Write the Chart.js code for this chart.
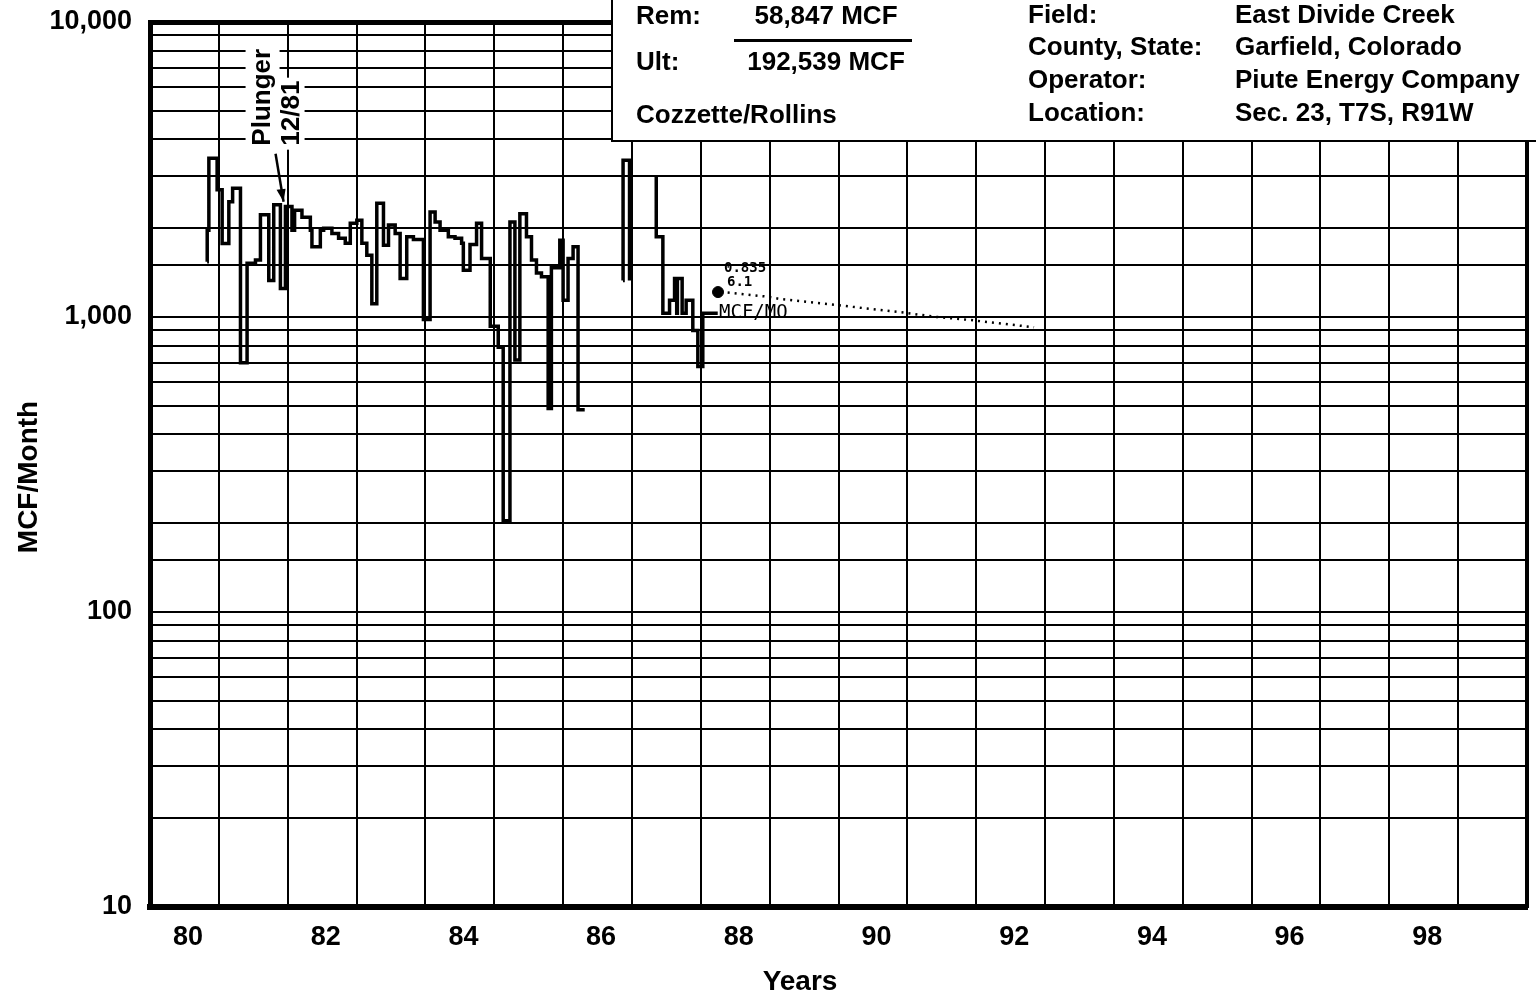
<!DOCTYPE html>
<html><head><meta charset="utf-8">
<script src="https://cdn.jsdelivr.net/npm/chart.js@4.4.1/dist/chart.umd.min.js"></script>
<style>html,body{margin:0;padding:0;background:#fff;}canvas{display:block;}</style>
</head><body>
<canvas id="c" width="1536" height="998"></canvas>
<script>
// ---------- DATA ----------
// Monthly gas production, step series (decimal year since 1900, MCF/month); null = gap
const prodYears = [
  80.830, 80.831, 80.855, 80.975, 81.048, 81.145, 81.200, 81.314, 81.410, 81.532,
  81.604, 81.725, 81.797, 81.894, 81.967, 82.062, 82.100, 82.207, 82.329, 82.352,
  82.474, 82.522, 82.642, 82.739, 82.836, 82.909, 83.004, 83.077, 83.149, 83.222,
  83.294, 83.391, 83.464, 83.561, 83.633, 83.729, 83.826, 83.971, 84.068, 84.141,
  84.213, 84.333, 84.430, 84.526, 84.551, 84.648, 84.743, 84.816, 84.942, 85.058,
  85.130, 85.228, 85.300, 85.372, 85.468, 85.541, 85.613, 85.686, 85.783, 85.830,
  85.952, 86.000, 86.072, 86.145, 86.217, 86.314,
  86.500,
  86.870, 86.871, 86.965,
  87.100,
  87.352, 87.353, 87.449, 87.546, 87.619, 87.650, 87.660, 87.729, 87.787, 87.884,
  87.957, 88.029, 88.246
];
const prodMcf = [
  1540, 1970, 3450, 2700, 1775, 2460, 2730, 700, 1520, 1560,
  2220, 1330, 2400, 1250, 2370, 1970, 2300, 2180, 1970, 1730,
  1970, 2000, 1920, 1850, 1780, 2080, 2130, 1780, 1620, 1110,
  2430, 1750, 2050, 1920, 1350, 1870, 1830, 980, 2270, 2100,
  1970, 1870, 1850, 1780, 1440, 1760, 2080, 1580, 930, 790,
  204, 2100, 715, 2240, 1870, 1560, 1410, 1370, 490, 1470,
  1820, 1140, 1580, 1730, 485, 485,
  null,
  1330, 3400, 1330,
  null,
  2990, 1870, 1030, 1140, 1350, 1030, 1350, 1030, 1140, 900,
  680, 1030, 1030
];
// Forecast decline (dotted)
const forecastYears = [88.39, 88.97, 89.16, 89.94, 90.96, 91.43, 91.91, 92.84];
const forecastMcf   = [1210, 1172, 1150, 1100, 1034, 1000, 977, 923];
// Forecast start marker
const markerYears = [88.25];
const markerMcf   = [1215];
// Axis tick labels
const yTickValues = [10, 100, 1000, 10000];
const yTickLabels = ['10', '100', '1,000', '10,000'];
const xTickYears  = [80, 82, 84, 86, 88, 90, 92, 94, 96, 98];
const xTickLabels = ['80', '82', '84', '86', '88', '90', '92', '94', '96', '98'];
// Texts
const yTitle = 'MCF/Month';
const xTitle = 'Years';
const reserveLabels = ['Rem:', 'Ult:'];
const reserveValues = ['58,847 MCF', '192,539 MCF'];
const formationText = 'Cozzette/Rollins';
const wellLabels = ['Field:', 'County, State:', 'Operator:', 'Location:'];
const wellValues = ['East Divide Creek', 'Garfield, Colorado', 'Piute Energy Company', 'Sec. 23, T7S, R91W'];
const plungerTexts = ['Plunger', '12/81'];
const plungerPoint = {x: 81.94, y: 2460};
const forecastTexts = ['0.835', '6.1', 'MCF/MO'];

// ---------- STYLE ----------
const FONT = "'Liberation Sans', Arial, Helvetica, sans-serif";
const MONO = "'DejaVu Sans Mono', 'Liberation Mono', monospace";

const noPad = (s) => { s.paddingTop = 0; s.paddingBottom = 0; s.paddingLeft = 0; s.paddingRight = 0; };

const overlay = {
  id: 'overlay',
  afterDraw(chart) {
    const {ctx, scales: {x, y}} = chart;
    ctx.save();
    // header box
    const bx = 612, bh = 141;
    ctx.fillStyle = '#fff';
    ctx.fillRect(bx, 0, chart.width - bx, bh);
    ctx.strokeStyle = '#000';
    ctx.lineWidth = 2;
    ctx.beginPath();
    ctx.moveTo(bx, 0); ctx.lineTo(bx, bh); ctx.lineTo(chart.width, bh);
    ctx.stroke();

    ctx.fillStyle = '#000';
    ctx.font = 'bold 26px ' + FONT;
    ctx.textBaseline = 'middle';
    ctx.textAlign = 'left';
    const resY = [17, 63];
    reserveLabels.forEach((t, i) => ctx.fillText(t, 636, resY[i]));
    ctx.textAlign = 'center';
    reserveValues.forEach((t, i) => ctx.fillText(t, 826, resY[i]));
    ctx.fillRect(734, 39, 178, 3);
    ctx.textAlign = 'left';
    ctx.fillText(formationText, 636, 116);
    const wy = [16, 48, 81, 114];
    wellLabels.forEach((t, i) => ctx.fillText(t, 1028, wy[i]));
    wellValues.forEach((t, i) => ctx.fillText(t, 1235, wy[i]));

    // axis titles
    ctx.font = 'bold 28px ' + FONT;
    ctx.textAlign = 'center';
    ctx.fillText(xTitle, 800, 982);
    ctx.save();
    ctx.translate(29, 477);
    ctx.rotate(-Math.PI / 2);
    ctx.fillText(yTitle, 0, 0);
    ctx.restore();

    // Plunger annotation
    const tx = x.getPixelForValue(plungerPoint.x), ty = y.getPixelForValue(plungerPoint.y);
    ctx.fillStyle = '#fff';
    ctx.fillRect(tx - 38, ty - 158, 34, 106);
    ctx.fillRect(tx - 5, ty - 124, 26, 72);
    ctx.fillStyle = '#000';
    ctx.font = 'bold 26px ' + FONT;
    ctx.textAlign = 'left';
    ctx.textBaseline = 'middle';
    [[tx - 21, ty - 56], [tx + 8, ty - 56]].forEach((p, i) => {
      ctx.save();
      ctx.translate(p[0], p[1]);
      ctx.rotate(-Math.PI / 2);
      ctx.fillText(plungerTexts[i], 0, 0);
      ctx.restore();
    });
    // arrow
    ctx.strokeStyle = '#000';
    ctx.lineWidth = 2.5;
    ctx.beginPath();
    ctx.moveTo(tx - 8, ty - 48);
    ctx.lineTo(tx, ty);
    ctx.stroke();
    ctx.beginPath();
    ctx.moveTo(tx, ty);
    ctx.lineTo(tx - 7, ty - 12);
    ctx.lineTo(tx + 2, ty - 13);
    ctx.closePath();
    ctx.fill();

    // forecast annotation
    const mx = x.getPixelForValue(markerYears[0]), my = y.getPixelForValue(markerMcf[0]);
    ctx.font = 'bold 14px ' + MONO;
    ctx.textAlign = 'left';
    ctx.fillText(forecastTexts[0], mx + 6, my - 24);
    ctx.fillText(forecastTexts[1], mx + 9, my - 10);
    ctx.font = '19px ' + MONO;
    ctx.fillText(forecastTexts[2], mx + 1, my + 21);
    ctx.restore();
  }
};

const xy = (xs, ys) => xs.map((v, i) => ({x: v, y: ys[i]}));

new Chart(document.getElementById('c'), {
  type: 'line',
  data: {
    datasets: [
      {label: 'Production', data: xy(prodYears, prodMcf), stepped: true, borderColor: '#000',
       borderWidth: 3.5, pointRadius: 0, spanGaps: false, borderJoinStyle: 'miter'},
      {label: 'Forecast', data: xy(forecastYears, forecastMcf), borderColor: '#000', borderWidth: 2.5,
       borderDash: [2, 5], pointRadius: 0, tension: 0},
      {label: 'Marker', data: xy(markerYears, markerMcf), showLine: false, pointStyle: 'circle',
       pointRadius: 5.5, backgroundColor: '#000', borderColor: '#000', borderWidth: 1},
      {label: 'MarkerCross', data: xy(markerYears, markerMcf), showLine: false, pointStyle: 'cross',
       pointRadius: 4, borderColor: '#fff', borderWidth: 1.5}
    ]
  },
  options: {
    responsive: false, animation: false, devicePixelRatio: 1,
    layout: {padding: {left: 0, right: 9, top: 22, bottom: 0}},
    plugins: {legend: {display: false}, tooltip: {enabled: false}},
    scales: {
      x: {
        type: 'linear', position: 'bottom', min: 80, max: 100,
        ticks: {stepSize: 1, maxTicksLimit: 40, autoSkip: false, maxRotation: 0, minRotation: 0,
          labelOffset: 38, padding: 14, color: '#000', font: {family: FONT, size: 27, weight: 'bold'},
          callback: (v) => { const i = xTickYears.indexOf(v); return i >= 0 ? xTickLabels[i] : ''; }},
        grid: {color: '#000', lineWidth: 2, drawTicks: false},
        border: {display: true, color: '#000', width: 6},
        afterFit: (s) => { s.height = 91; noPad(s); }
      },
      xTop: {
        type: 'linear', position: 'top', min: 80, max: 100,
        ticks: {display: false}, grid: {display: false, drawTicks: false},
        border: {display: true, color: '#000', width: 5},
        afterFit: (s) => { s.height = 0; noPad(s); }
      },
      y: {
        type: 'logarithmic', position: 'left', min: 10, max: 10000,
        ticks: {autoSkip: false, padding: 18, color: '#000', font: {family: FONT, size: 27, weight: 'bold'},
          callback: (v) => { const i = yTickValues.indexOf(Number(v)); return i >= 0 ? yTickLabels[i] : ''; }},
        grid: {color: '#000', lineWidth: 2, drawTicks: false},
        border: {display: true, color: '#000', width: 5},
        afterFit: (s) => { s.width = 150; noPad(s); }
      },
      yRight: {
        type: 'linear', position: 'right', min: 0, max: 1,
        ticks: {display: false}, grid: {display: false, drawTicks: false},
        border: {display: true, color: '#000', width: 4},
        afterFit: (s) => { s.width = 0; noPad(s); }
      }
    }
  },
  plugins: [overlay]
});
</script>
</body></html>
